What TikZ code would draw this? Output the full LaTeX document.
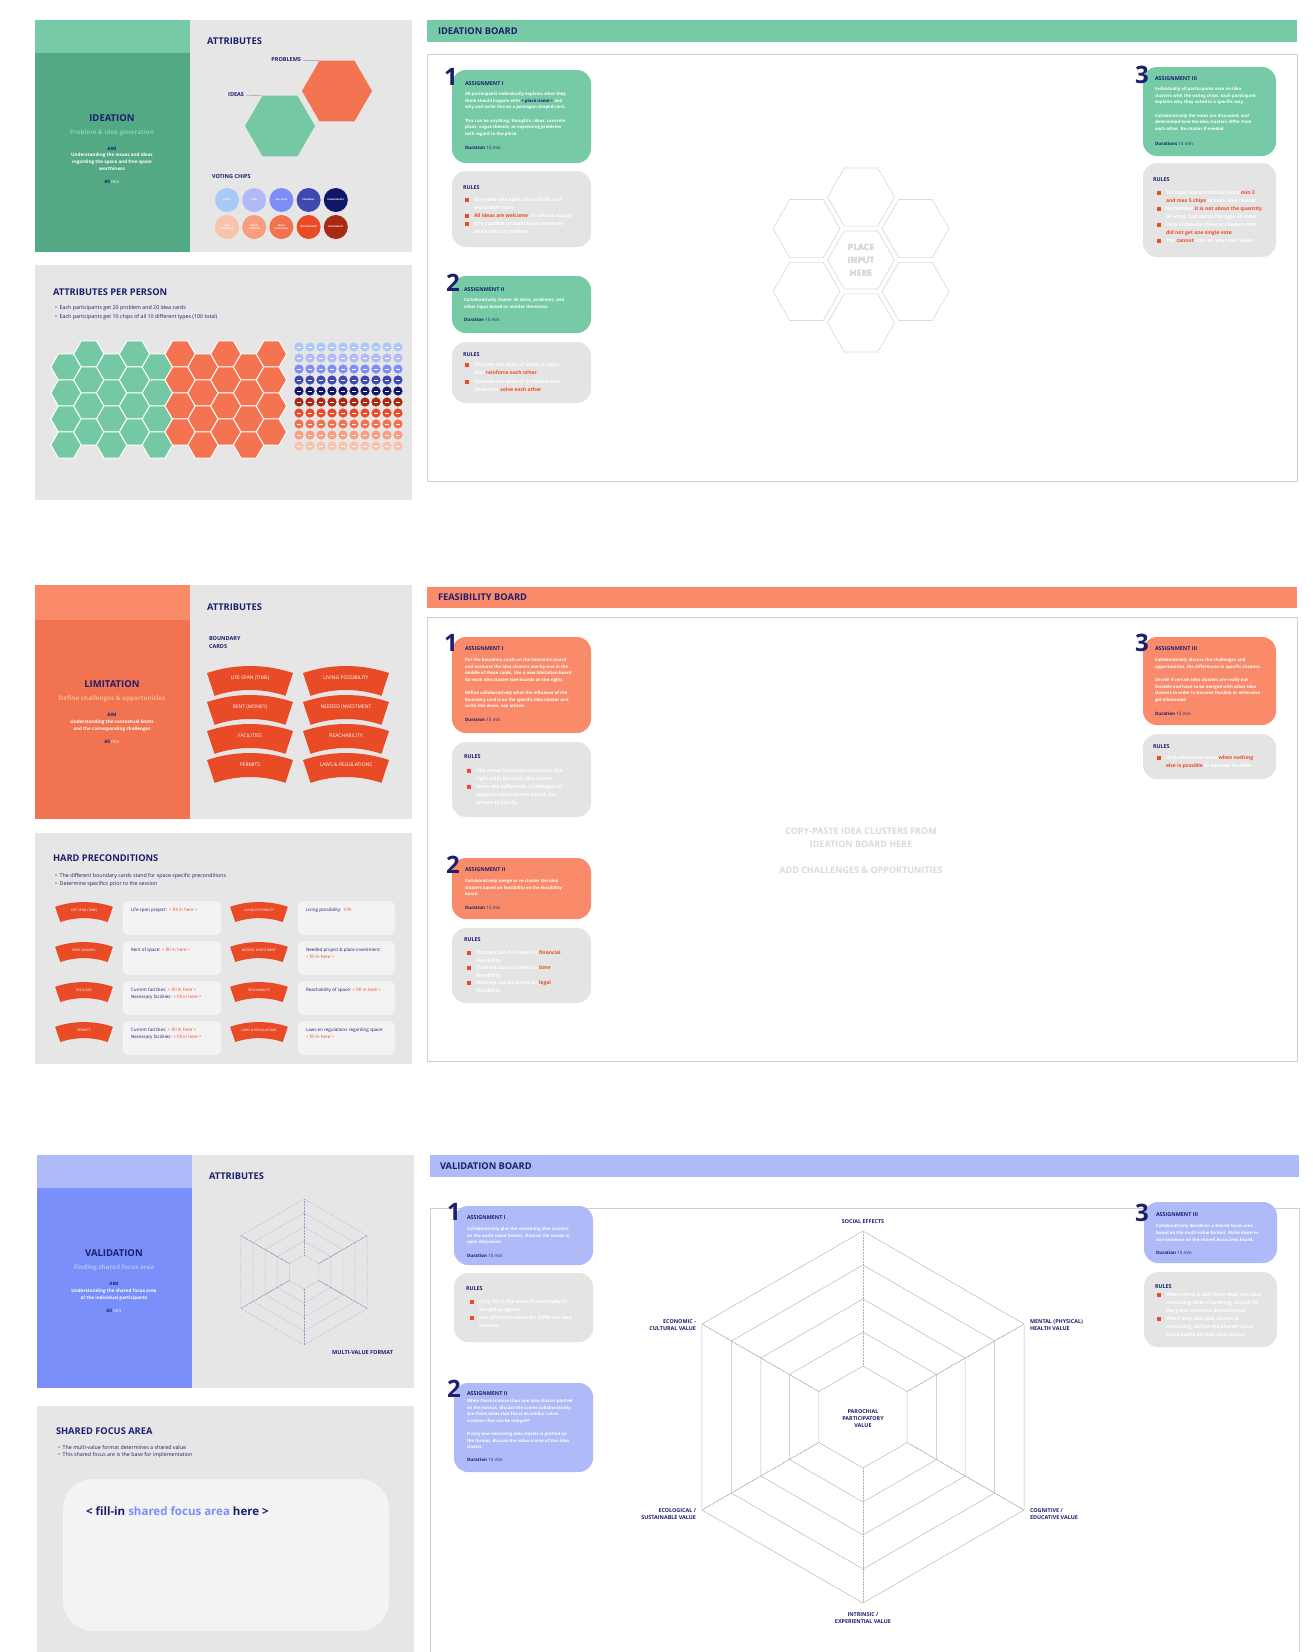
\documentclass[tikz,border=0pt]{standalone}
\usepackage{fontspec}
\setmainfont{Open Sans}
\usetikzlibrary{positioning}
\definecolor{navy}{HTML}{1B1F6E}
\definecolor{ghead}{HTML}{76CAA5}
\definecolor{gbody}{HTML}{52A984}
\definecolor{gsub}{HTML}{84D2AF}
\definecolor{ohead}{HTML}{F98B6B}
\definecolor{obody}{HTML}{F27350}
\definecolor{osub}{HTML}{FAB39A}
\definecolor{cardred}{HTML}{E94B26}
\definecolor{bhead}{HTML}{AEBBF8}
\definecolor{bbody}{HTML}{7B8FFA}
\definecolor{bsub}{HTML}{B5C1FB}
\definecolor{panel}{HTML}{E6E6E6}
\definecolor{rulegray}{HTML}{E4E4E4}
\definecolor{fillbox}{HTML}{F3F3F3}
\definecolor{framegray}{HTML}{CFCFCF}
\definecolor{bul}{HTML}{EE4A26}
\definecolor{ghost}{HTML}{DADADA}
\definecolor{radarc}{HTML}{9A9CC2}
\definecolor{hexorange}{HTML}{F47350}
\definecolor{hexgreen}{HTML}{74C9A4}
\definecolor{c1}{HTML}{A9C9F6}
\definecolor{c2}{HTML}{B1B9F6}
\definecolor{c3}{HTML}{7D8EF8}
\definecolor{c4}{HTML}{3F4AAF}
\definecolor{c5}{HTML}{10166A}
\definecolor{c6}{HTML}{F9C2AB}
\definecolor{c7}{HTML}{F99D7E}
\definecolor{c8}{HTML}{F2714E}
\definecolor{c9}{HTML}{E84B26}
\definecolor{c10}{HTML}{A82A12}
\newcommand{\hexat}[5]{\path[#5] (#1,#2) +(#4:#3) -- +(#4+60:#3) -- +(#4+120:#3) -- +(#4+180:#3) -- +(#4+240:#3) -- +(#4+300:#3) -- cycle;}
\newcommand{\ruleitem}[4]{\fill[bul] (#2-9.5,#3-2.4) rectangle (#2-4.7,#3+2.4); \node[rtext] (#1) at (#2,#3-2.3) {#4};}
\tikzset{
  bcard/.pic={
    \fill[cardred] (251.4:135) arc[start angle=251.4, end angle=288.6, radius=135] -- (288.6:111) arc[start angle=288.6, end angle=251.4, radius=111] -- cycle;
    \node[cardtxt] (-t) at (0,-123) {#1};
  }
}
\begin{document}
\begin{tikzpicture}[x=1pt, y=-1pt,
  every node/.style={inner sep=0pt, outer sep=0pt},
  phasename/.style={text=navy, font=\fontsize{9.5}{11}\selectfont\bfseries},
  phasesub/.style={font=\fontsize{6.3}{8}\selectfont\bfseries},
  aimhead/.style={text=navy, font=\fontsize{4.6}{6}\selectfont\bfseries},
  aimtext/.style={text=white, font=\fontsize{4.6}{6.8}\selectfont\bfseries, align=center},
  mins/.style={font=\fontsize{4.6}{6}\selectfont},
  title/.style={text=navy, font=\fontsize{9.3}{11}\selectfont\bfseries, anchor=west},
  tag/.style={text=navy, font=\fontsize{5.5}{8.5}\selectfont\bfseries},
  num/.style={text=navy, font=\fontsize{24}{24}\selectfont\bfseries},
  atitle/.style={text=navy, font=\fontsize{5.4}{6}\selectfont\bfseries, anchor=west},
  atext/.style={text=white, font=\fontsize{4.3}{6.6}\selectfont\bfseries, align=left, anchor=north west},
  dur/.style={text=navy, font=\fontsize{4.5}{6}\selectfont, anchor=west},
  rtext/.style={text=white, font=\fontsize{5}{7.8}\selectfont\bfseries, align=left, anchor=north west},
  bulletline/.style={text=navy, font=\fontsize{5.3}{7}\selectfont, anchor=west, text height=3.8pt, text depth=1.2pt},
  fillin/.style={text=navy, font=\fontsize{4.5}{6.5}\selectfont, align=left, anchor=north west},
  ghosttext/.style={text=ghost, font=\fontsize{8.5}{13}\selectfont\bfseries, align=center},
  axis/.style={text=navy, font=\fontsize{5.4}{7}\selectfont\bfseries},
  chip/.style={text=white, font=\fontsize{2.2}{2.6}\selectfont\bfseries, align=center},
  cardtxt/.style={text=white, font=\fontsize{5}{6}\selectfont},
  abox/.style={rounded corners=14pt},
  rbox/.style={rounded corners=14pt, fill=rulegray},
  sbox/.style={rounded corners=6pt, fill=fillbox},
  boardframe/.style={draw=framegray, line width=0.8pt},
  pointer/.style={draw=gray!60, line width=0.7pt, shorten <=2pt},
  radar/.style={draw=radarc, densely dotted, line width=0.45pt},
  web/.style={draw=gray!55, line width=0.5pt},
  spoke/.style={draw=gray!60, densely dotted, line width=0.5pt}]

\fill[white] (0,0) rectangle (1312,1652);
\useasboundingbox (0,0) rectangle (1312,1652);

\fill[ghead] (35,20) rectangle (190,53);
\fill[gbody] (35,53) rectangle (190,252);
\fill[panel] (190,20) rectangle (412,252);
\node[phasename] (ideation) at (112,118) {IDEATION};
\node[phasesub, text=gsub] (ideationsub) at (112,133) {Problem \& idea generation};
\node[aimhead] (ideationaim) at (112,149) {AIM};
\node[aimtext, anchor=north] (ideationgoal) at (112,153) {Understanding the issues and ideas\\regarding the space and free space\\worthiness};
\node[mins] (ideationtime) at (112,182) {\textcolor{navy}{\bfseries 60} \textcolor{white}{min}};

\node[title] (attributes1) at (207,41) {ATTRIBUTES};
\hexat{337}{91}{35}{0}{fill=hexorange}
\hexat{280}{126}{35}{0}{fill=hexgreen}
\node[tag, anchor=east] (problems) at (301,60) {PROBLEMS};
\coordinate (problemstip) at (319,60);
\draw[pointer] (problems) -- (problemstip);
\node[tag, anchor=east] (ideas) at (244,95) {IDEAS};
\coordinate (ideastip) at (262,95.7);
\draw[pointer] (ideas) -- (ideastip);
\node[tag, anchor=west] (votingchips) at (212,177) {VOTING CHIPS};
\foreach \c/\t [count=\i from 0] in {c1/PUBLIC, c2/OPEN, c3/INCLUSIVE, c4/INFORMAL, c5/TRANSPARENCY}{
  \fill[\c] (227+27.2*\i,200) circle[radius=12];
  \node[chip] (chipa\i) at (227+27.2*\i,200) {\t};
}
\foreach \c/\t [count=\i from 0] in {c6/{NEW\\COMMERCIAL}, c7/{SOCIAL\\COHESION}, c8/{MULTI\\FUNCTIONAL}, c9/ENVIRONMENT, c10/BIODIVERSITY}{
  \fill[\c] (227+27.2*\i,227) circle[radius=12];
  \node[chip] (chipb\i) at (227+27.2*\i,227) {\t};
}

\fill[panel] (35,265) rectangle (412,500);
\node[title] (perperson) at (53,292) {ATTRIBUTES PER PERSON};
\node[bulletline] (perperson1) at (55,308) {\textbullet\ \ Each participants get 20 problem and 20 idea cards};
\node[bulletline, below=4pt of perperson1.south west, anchor=north west] (perperson2) {\textbullet\ \ Each participants get 10 chips of all 10 different types (100 total)};
\foreach \k in {0,...,9}{
  \pgfmathsetmacro{\hx}{66+22.83*\k}
  \pgfmathsetmacro{\hy}{isodd(\k) ? 354 : 367}
  \ifnum\k<5 \def\hc{hexgreen}\else\def\hc{hexorange}\fi
  \foreach \j in {0,...,3}{
    \hexat{\hx}{\hy+26*\j}{15.2}{0}{fill=\hc, draw=white, line width=1pt}
  }
}
\foreach \c [count=\r from 0] in {c1,c2,c3,c4,c5,c10,c9,c8,c7,c6}{
  \foreach \q in {0,...,9}{
    \fill[\c] (299+11*\q,347+11*\r) circle[radius=4.6];
    \draw[white, line width=0.6pt] (296.8+11*\q,347+11*\r) -- (301.2+11*\q,347+11*\r);
  }
}

\fill[ghead] (427,20) rectangle (1297,42);
\node[title] (ideationboard) at (438,31) {IDEATION BOARD};
\draw[boardframe] (427,54) rectangle (1297,481);

\fill[ghead, abox] (452,70) rectangle (591,163);
\node[num] (ia1) at (451,77) {1};
\node[atitle] (ia1title) at (465,84) {ASSIGNMENT I};
\node[atext] (ia1text) at (465,92.5) {All participants individually explains what they\\think should happen with \textcolor{navy}{< place name >} and\\why and write this on a pentagon shaped card.\\[6.6pt]This can be anything; thoughts, ideas, concrete\\plans, vague themes, or expressing problems\\with regard to the place.};
\node[dur] (ia1dur) at (465,148) {\textbf{Duration} 15 min};
\fill[rbox] (452,171) rectangle (591,247);
\node[atitle] (ir1title) at (463,188) {RULES};
\ruleitem{ir1a}{474}{200}{Everyone lets each other finish and\\waits their turn}
\ruleitem{ir1b}{474}{216}{\textcolor{bul}{All ideas are welcome}, no idea is stupid}
\ruleitem{ir1c}{474}{224}{It is possible to build upon someone\\else's idea or problem}

\fill[ghead, abox] (452,276) rectangle (591,333);
\node[num] (ia2) at (453,283) {2};
\node[atitle] (ia2title) at (464,290) {ASSIGNMENT II};
\node[atext] (ia2text) at (464,298.5) {Collaboratively cluster all ideas, problems, and\\other input based on similar thematics.};
\node[dur] (ia2dur) at (464,320) {\textbf{Duration} 15 min};
\fill[rbox] (452,342) rectangle (591,403);
\node[atitle] (ir2title) at (463,355) {RULES};
\ruleitem{ir2a}{474}{365}{Clusters can exist of ideas or input\\that \textcolor{bul}{reinforce each other}}
\ruleitem{ir2b}{474}{382}{Clusters can exist of problems and\\ideas that \textcolor{bul}{solve each other}}

\fill[ghead, abox] (1143,67) rectangle (1276,156);
\node[num] (ia3) at (1142,75) {3};
\node[atitle] (ia3title) at (1155,79) {ASSIGNMENT III};
\node[atext] (ia3text) at (1155,87.5) {Individually all participants vote on idea\\clusters with the voting chips. Each participant\\explains why they voted in a specific way.\\[6.6pt]Collaboratively the votes are discussed, and\\determined how the idea clusters differ from\\each other. Re-cluster if needed.};
\node[dur] (ia3dur) at (1155,144) {\textbf{Durations} 15 min};
\fill[rbox] (1143,163) rectangle (1276,257);
\node[atitle] (ir3title) at (1153,180) {RULES};
\ruleitem{ir3a}{1166}{193}{Each participant should place \textcolor{bul}{min 3}\\\textcolor{bul}{and max 5 chips} at each idea cluster}
\ruleitem{ir3b}{1166}{209}{Remember \textcolor{bul}{it is not about the quantity}\\of votes, but about the type of votes}
\ruleitem{ir3c}{1166}{225}{Only eliminate ideas or clusters that\\\textcolor{bul}{did not get one single vote}}
\ruleitem{ir3d}{1166}{241}{You \textcolor{bul}{cannot} vote on your own ideas}

\foreach \hx/\hy in {861/260, 861/197.1, 861/322.9, 806.5/228.6, 806.5/291.4, 915.5/228.6, 915.5/291.4}
  \hexat{\hx}{\hy}{33.5}{0}{draw=ghost, line width=0.7pt}
\node[ghosttext] (placeinput) at (861,260) {PLACE\\INPUT\\HERE};

\fill[ohead] (35,585) rectangle (190,620);
\fill[obody] (35,620) rectangle (190,819);
\fill[panel] (190,585) rectangle (412,819);
\node[phasename] (limitation) at (112,684) {LIMITATION};
\node[phasesub, text=osub] (limitationsub) at (112,699) {Define challenges \& opportunities};
\node[aimhead] (limitationaim) at (112,715) {AIM};
\node[aimtext, anchor=north] (limitationgoal) at (112,720) {Understanding the contextual limits\\and the corresponding challenges};
\node[mins] (limitationtime) at (112,742) {\textcolor{navy}{\bfseries 60} \textcolor{white}{min}};
\node[title] (attributes2) at (207,607) {ATTRIBUTES};
\node[tag, align=left, anchor=west] (boundary) at (209,642.5) {BOUNDARY\\CARDS};
\pic (lifespan) at (250,801) {bcard={LIFE SPAN (TIME)}};
\pic (living) at (346,801) {bcard={LIVING POSSIBILITY}};
\pic (rent) at (250,830) {bcard={RENT (MONEY)}};
\pic (investment) at (346,830) {bcard={NEEDED INVESTMENT}};
\pic (facilities) at (250,859) {bcard={FACILITIES}};
\pic (reachability) at (346,859) {bcard={REACHABILITY}};
\pic (permits) at (250,888) {bcard={PERMITS}};
\pic (laws) at (346,888) {bcard={LAWS \& REGULATIONS}};

\fill[panel] (35,833) rectangle (412,1064);
\node[title] (hard) at (53,858) {HARD PRECONDITIONS};
\node[bulletline] (hard1) at (55,876) {\textbullet\ \ The different boundary cards stand for space specific preconditions};
\node[bulletline, below=3pt of hard1.south west, anchor=north west] (hard2) {\textbullet\ \ Determine specifics prior to the session};
\foreach \row in {0,1,2,3}{
  \fill[sbox] (123,901+40*\row) rectangle (221,935+40*\row);
  \fill[sbox] (298,901+40*\row) rectangle (395,935+40*\row);
}
\pic[scale=0.67, transform shape] (slifespan) at (84,992.5) {bcard={LIFE SPAN (TIME)}};
\pic[scale=0.67, transform shape] (sliving) at (259,992.5) {bcard={LIVING POSSIBILITY}};
\pic[scale=0.67, transform shape] (srent) at (84,1032.5) {bcard={RENT (MONEY)}};
\pic[scale=0.67, transform shape] (sinvestment) at (259,1032.5) {bcard={NEEDED INVESTMENT}};
\pic[scale=0.67, transform shape] (sfacilities) at (84,1072.5) {bcard={FACILITIES}};
\pic[scale=0.67, transform shape] (sreachability) at (259,1072.5) {bcard={REACHABILITY}};
\pic[scale=0.67, transform shape] (spermits) at (84,1112.5) {bcard={PERMITS}};
\pic[scale=0.67, transform shape] (slaws) at (259,1112.5) {bcard={LAWS \& REGULATIONS}};
\node[fillin] (pre1) at (131,908.5) {Life span project:\ \ \textcolor{bul}{< fill in here >}};
\node[fillin] (pre2) at (306,908.5) {Living possibility:\ \ \textcolor{bul}{Y/N}};
\node[fillin] (pre3) at (131,948.5) {Rent of space: \textcolor{bul}{< fill in here >}};
\node[fillin] (pre4) at (306,948.5) {Needed project \& place investment:\\\textcolor{bul}{< fill in here >}};
\node[fillin] (pre5) at (131,988.5) {Current facilities: \textcolor{bul}{< fill in here >}\\Necessary facilities: \textcolor{bul}{< fill in here >}};
\node[fillin] (pre6) at (306,988.5) {Reachability of space: \textcolor{bul}{< fill in here >}};
\node[fillin] (pre7) at (131,1028.5) {Current facilities: \textcolor{bul}{< fill in here >}\\Necessary facilities: \textcolor{bul}{< fill in here >}};
\node[fillin] (pre8) at (306,1028.5) {Laws en regulations regarding space:\\\textcolor{bul}{< fill in here >}};

\fill[ohead] (427,587) rectangle (1297,608);
\node[title] (feasibilityboard) at (438,597) {FEASIBILITY BOARD};
\draw[boardframe] (427,617) rectangle (1297,1061);

\fill[ohead, abox] (452,637) rectangle (591,733);
\node[num] (fa1) at (451,643) {1};
\node[atitle] (fa1title) at (465,649) {ASSIGNMENT I};
\node[atext] (fa1text) at (465,658.5) {Put the boundary cards on the limitation board\\and evaluate the idea clusters one-by-one in the\\middle of those cards. Use a new limitation board\\for each idea cluster (see boards on the right).\\[6.6pt]Define collaboratively what the influence of the\\boundary card is on the specific idea cluster and\\write this down, use arrows.};
\node[dur] (fa1dur) at (465,720) {\textbf{Duration} 15 min};
\fill[rbox] (452,742) rectangle (591,817);
\node[atitle] (fr1title) at (464,757) {RULES};
\ruleitem{fr1a}{476}{771}{Use a new limitation board (on the\\right side) for each idea cluster}
\ruleitem{fr1b}{476}{787}{Write the influences (challenges or\\opportunities) on the board, use\\arrows to clarify}

\fill[ohead, abox] (452,858) rectangle (591,919);
\node[num] (fa2) at (453,865) {2};
\node[atitle] (fa2title) at (465,870) {ASSIGNMENT II};
\node[atext] (fa2text) at (465,879.5) {Collaboratively merge or re-cluster the idea\\clusters based on feasibility on the feasibility\\board};
\node[dur] (fa2dur) at (465,908) {\textbf{Duration} 15 min};
\fill[rbox] (452,928) rectangle (591,1003);
\node[atitle] (fr2title) at (464,940) {RULES};
\ruleitem{fr2a}{476}{953}{Clusters can be based on \textcolor{bul}{financial}\\feasibility}
\ruleitem{fr2b}{476}{968}{Clusters can be based on \textcolor{bul}{time}\\feasibility}
\ruleitem{fr2c}{476}{983}{Clusters can be based on \textcolor{bul}{legal}\\feasibility}

\fill[ohead, abox] (1143,637) rectangle (1276,725);
\node[num] (fa3) at (1142,643) {3};
\node[atitle] (fa3title) at (1155,649) {ASSIGNMENT III};
\node[atext] (fa3text) at (1155,658.5) {Collaboratively discuss the challenges and\\opportunities, the differences in specific clusters.\\[6.6pt]Decide if certain idea clusters are really not\\feasible and have to be merged with other idea\\clusters in order to become feasible or otherwise\\get eliminated};
\node[dur] (fa3dur) at (1155,714) {\textbf{Duration} 15 min};
\fill[rbox] (1143,734) rectangle (1276,779);
\node[atitle] (fr3title) at (1153,747) {RULES};
\ruleitem{fr3a}{1166}{758}{Only eliminate ideas \textcolor{bul}{when nothing}\\\textcolor{bul}{else is possible} to become feasible}

\node[ghosttext, font=\fontsize{9}{13}\selectfont\bfseries] (copypaste) at (861,837.5) {COPY-PASTE IDEA CLUSTERS FROM\\IDEATION BOARD HERE};
\node[ghosttext, font=\fontsize{9}{13}\selectfont\bfseries] (addchallenges) at (861,870) {ADD CHALLENGES \& OPPORTUNITIES};

\fill[bhead] (37,1155) rectangle (192,1188);
\fill[bbody] (37,1188) rectangle (192,1388);
\fill[panel] (192,1155) rectangle (414,1388);
\node[phasename] (validation) at (114,1253) {VALIDATION};
\node[phasesub, text=bsub] (validationsub) at (114,1268) {Finding shared focus area};
\node[aimhead] (validationaim) at (114,1284) {AIM};
\node[aimtext, anchor=north] (validationgoal) at (114,1289) {Understanding the shared focus area\\of the individual participants};
\node[mins] (validationtime) at (114,1311) {\textcolor{navy}{\bfseries 60} \textcolor{white}{min}};
\node[title] (attributes3) at (209,1176) {ATTRIBUTES};
\foreach \rr in {73,59,45,31,17}
  \hexat{304}{1272}{\rr}{30}{radar}
\foreach \a in {30,90,...,330}
  \draw[radar] ([shift={(\a:17)}]304,1272) -- ([shift={(\a:73)}]304,1272);
\node[tag, anchor=east] (multivalue) at (393,1353) {MULTI-VALUE FORMAT};

\fill[panel] (37,1406) rectangle (414,1652);
\node[title] (sharedfocus) at (56,1431) {SHARED FOCUS AREA};
\node[bulletline] (shared1) at (58,1448) {\textbullet\ \ The multi-value format determines a shared value};
\node[bulletline, below=2pt of shared1.south west, anchor=north west] (shared2) {\textbullet\ \ This shared focus are is the base for implementation};
\fill[fillbox, rounded corners=30pt] (63,1479) rectangle (389,1631);
\node[text=navy, font=\fontsize{11.5}{13}\selectfont\bfseries, anchor=west] (fillshared) at (86,1511) {< fill-in \textcolor{bbody}{shared focus area} here >};

\fill[bhead] (430,1155) rectangle (1299,1177);
\node[title] (validationboard) at (440,1166) {VALIDATION BOARD};
\draw[boardframe] (430,1660) -- (430,1208) -- (1299,1208) -- (1299,1660);

\foreach \rr in {186,152,118,85,51}
  \hexat{863}{1417}{\rr}{30}{web}
\foreach \a in {30,90,...,330}
  \draw[spoke] ([shift={(\a:51)}]863,1417) -- ([shift={(\a:186)}]863,1417);
\node[axis] (social) at (863,1222) {SOCIAL EFFECTS};
\node[axis, align=left, anchor=west] (mental) at (1030,1325.5) {MENTAL (PHYSICAL)\\HEALTH VALUE};
\node[axis, align=right, anchor=east] (economic) at (696,1325.5) {ECONOMIC -\\CULTURAL VALUE};
\node[axis, align=left, anchor=west] (cognitive) at (1030,1514) {COGNITIVE /\\EDUCATIVE VALUE};
\node[axis, align=right, anchor=east] (ecological) at (696,1514) {ECOLOGICAL /\\SUSTAINABLE VALUE};
\node[axis, align=center] (intrinsic) at (863,1618) {INTRINSIC /\\EXPERIENTIAL VALUE};
\node[axis, align=center] (parochial) at (863,1419) {PAROCHIAL\\PARTICIPATORY\\VALUE};

\fill[bhead, abox] (454,1206) rectangle (593,1265);
\node[num] (va1) at (454,1212) {1};
\node[atitle] (va1title) at (467,1218) {ASSIGNMENT I};
\node[atext] (va1text) at (467,1227.5) {Collaboratively plot the remaining idea clusters\\on the multi-value format. Discuss the scores in\\open discussion.};
\node[dur] (va1dur) at (467,1256) {\textbf{Duration} 15 min};
\fill[rbox] (454,1273) rectangle (593,1342);
\node[atitle] (vr1title) at (466,1289) {RULES};
\ruleitem{vr1a}{479}{1302}{Only fill in the score if everybody in\\the group agrees}
\ruleitem{vr1b}{479}{1318}{Use different colors for different idea\\clusters}

\fill[bhead, abox] (454,1383) rectangle (593,1472);
\node[num] (va2) at (454,1389) {2};
\node[atitle] (va2title) at (467,1394) {ASSIGNMENT II};
\node[atext] (va2text) at (467,1399.5) {When there is more than one idea cluster plotted\\on the format, discuss the scores collaboratively.\\Are there ideas that focus on similar value-\\creation that can be merged?\\[6.6pt]If only one remaining idea cluster is plotted on\\the format, discuss the value scores of this idea\\cluster.};
\node[dur] (va2dur) at (467,1460) {\textbf{Duration} 15 min};

\fill[bhead, abox] (1144,1202) rectangle (1277,1263);
\node[num] (va3) at (1142,1213) {3};
\node[atitle] (va3title) at (1156,1215) {ASSIGNMENT III};
\node[atext] (va3text) at (1156,1224.5) {Collaboratively decide on a shared focus area\\based on the multi-value format. Write down in\\one sentence on the shared focus area board.};
\node[dur] (va3dur) at (1156,1253) {\textbf{Duration} 15 min};
\fill[rbox] (1144,1272) rectangle (1277,1347);
\node[atitle] (vr3title) at (1155,1287) {RULES};
\ruleitem{vr3a}{1166}{1295}{When there is still more than one idea\\remaining after clustering, search for\\the great common denominator}
\ruleitem{vr3b}{1166}{1319}{When only one idea cluster is\\remaining, define the shared value\\focus based on that idea cluster}
\end{tikzpicture}
\end{document}
